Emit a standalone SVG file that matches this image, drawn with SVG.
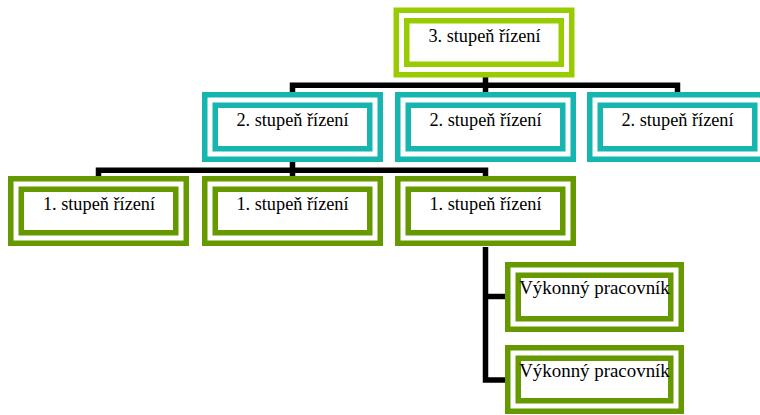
<svg xmlns="http://www.w3.org/2000/svg" width="760" height="415" viewBox="0 0 760 415">
<style>
.bg{fill:#ffffff}
.o{fill:#ffffff;stroke-width:5.5}
.i{fill:#ffffff;stroke-width:5.5}
.lime{stroke:#99cc00}
.teal{stroke:#17b5b0}
.olive{stroke:#669900}
.c{fill:none;stroke:#000000;stroke-width:5.5;stroke-linejoin:miter}
</style>
<rect class="bg" x="0" y="0" width="760" height="415"/>
<g id="connectors">
<path class="c" d="M292.5,92 V85.3 H677.5 V92"/>
<path class="c" d="M485.5,77 V92"/>
<path class="c" d="M98.5,176 V170.3 H485.5 V176"/>
<path class="c" d="M292.5,161 V176"/>
<path class="c" d="M485.5,247 V380 H505"/>
<path class="c" d="M485.5,296.5 H505"/>
</g>
<g font-family="'Liberation Serif', 'DejaVu Serif', serif" font-size="18.3" fill="#000000" text-anchor="middle">
<g id="n3">
<rect class="o lime" x="396.25" y="10.25" width="175.5" height="64.5"/>
<rect class="i lime" x="406.75" y="20.75" width="154.5" height="43.5"/>
<text x="484.5" y="41.5">3. stupeň řízení</text>
</g>
<g id="n2a">
<rect class="o teal" x="204.75" y="94.75" width="175.5" height="64.5"/>
<rect class="i teal" x="215.25" y="105.25" width="154.5" height="43.5"/>
<text x="292.5" y="126">2. stupeň řízení</text>
</g>
<g id="n2b">
<rect class="o teal" x="397.75" y="94.75" width="175.5" height="64.5"/>
<rect class="i teal" x="408.25" y="105.25" width="154.5" height="43.5"/>
<text x="485.5" y="126">2. stupeň řízení</text>
</g>
<g id="n2c">
<rect class="o teal" x="589.75" y="94.75" width="175.5" height="64.5"/>
<rect class="i teal" x="600.25" y="105.25" width="154.5" height="43.5"/>
<text x="677.5" y="126">2. stupeň řízení</text>
</g>
<g id="n1a">
<rect class="o olive" x="10.75" y="178.75" width="175.5" height="64.5"/>
<rect class="i olive" x="21.25" y="189.25" width="154.5" height="43.5"/>
<text x="99" y="210">1. stupeň řízení</text>
</g>
<g id="n1b">
<rect class="o olive" x="204.75" y="178.75" width="175.5" height="64.5"/>
<rect class="i olive" x="215.25" y="189.25" width="154.5" height="43.5"/>
<text x="292.5" y="210">1. stupeň řízení</text>
</g>
<g id="n1c">
<rect class="o olive" x="397.75" y="178.75" width="175.5" height="64.5"/>
<rect class="i olive" x="408.25" y="189.25" width="154.5" height="43.5"/>
<text x="485.5" y="210">1. stupeň řízení</text>
</g>
<g id="w1">
<rect class="o olive" x="507.75" y="264.75" width="173.5" height="64.5"/>
<rect class="i olive" x="518.25" y="275.25" width="152.5" height="43.5"/>
<text x="594.5" y="293.5" font-size="18.9">Výkonný pracovník</text>
</g>
<g id="w2">
<rect class="o olive" x="507.75" y="347.75" width="173.5" height="63.5"/>
<rect class="i olive" x="518.25" y="358.25" width="152.5" height="42.5"/>
<text x="594.5" y="376.5" font-size="18.9">Výkonný pracovník</text>
</g>
</g>
</svg>
